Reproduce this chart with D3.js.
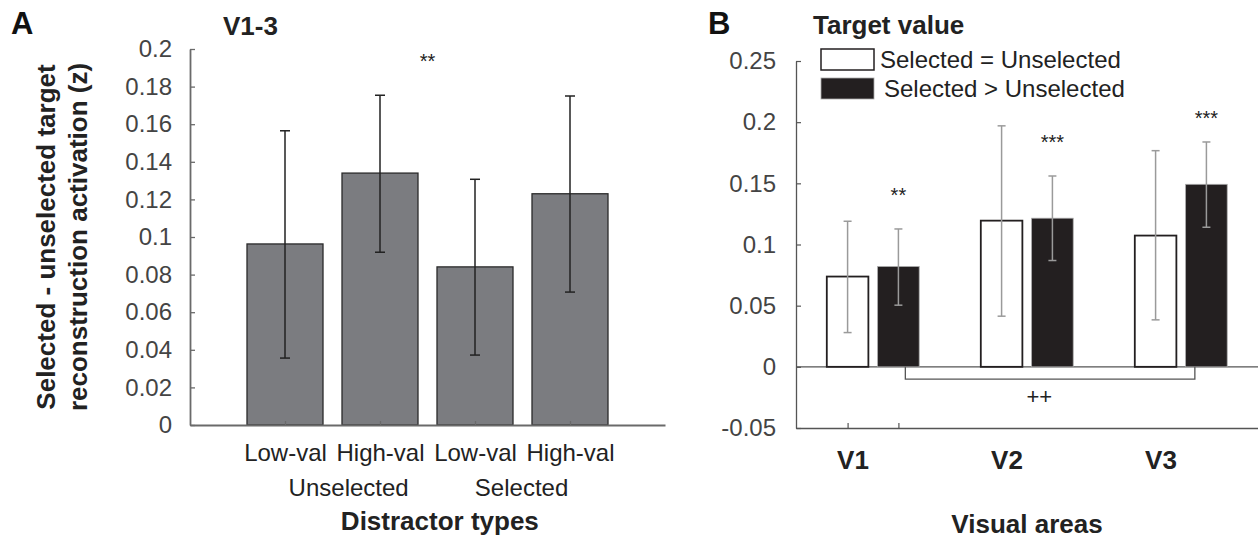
<!DOCTYPE html>
<html>
<head>
<meta charset="utf-8">
<script src="https://cdn.jsdelivr.net/npm/d3@7"></script>
<style>
  body { margin: 0; background: #fff; }
  text { font-family: "Liberation Sans", Arial, Helvetica, sans-serif; }
</style>
</head>
<body>
<svg id="chart" width="1258" height="539"></svg>
<script>
// panel A data (V1-3)
var distractors = ["Low-val", "High-val", "Low-val", "High-val"]
var groupLabels = [{name:"Unselected", pos:1.67}, {name:"Selected", pos:3.49}]
var meanA = [0.0963, 0.134, 0.0841, 0.123]
var lowA  = [0.0356, 0.0919, 0.0372, 0.0707]
var highA = [0.1565, 0.1754, 0.1307, 0.175]
var ticksA = [0, 0.02, 0.04, 0.06, 0.08, 0.1, 0.12, 0.14, 0.16, 0.18, 0.2]

// panel B data (per visual area)
var areas = ["V1", "V2", "V3"]
var series = ["Selected = Unselected", "Selected > Unselected"]
var equalVals = [0.0738, 0.1195, 0.1073]
var equalLow  = [0.028, 0.0414, 0.0384]
var equalHigh = [0.119, 0.197, 0.1767]
var greaterVals = [0.082, 0.1215, 0.1492]
var greaterLow  = [0.0504, 0.0869, 0.1141]
var greaterHigh = [0.1127, 0.156, 0.1838]
var starsB = ["**", "***", "***"]
var starsY = [0.135, 0.178, 0.198]
var ticksB = [-0.05, 0, 0.05, 0.1, 0.15, 0.2, 0.25]

var svg = d3.select("#chart")
var fmt = function(d){ return String(+d.toFixed(2)) }

//---------------- panel A ----------------
var xA = d3.scaleLinear().domain([0, 5]).range([190, 665])
var yA = d3.scaleLinear().domain([0, 0.2]).range([425, 49])
var barW = 0.8

var gA = svg.append("g").attr("id", "panelA")

gA.selectAll("rect.bar")
  .data(meanA)
  .enter().append("rect")
  .attr("class", "bar")
  .attr("x", function(d,i){ return xA(i + 1 - barW/2) })
  .attr("width", xA(barW) - xA(0))
  .attr("y", function(d){ return yA(d) })
  .attr("height", function(d){ return yA(0) - yA(d) })
  .attr("fill", "#7b7c80")
  .attr("stroke", "#2a2a2a")
  .attr("stroke-width", 1.3)

// error bars
var errA = gA.selectAll("g.err").data(meanA).enter().append("g").attr("class","err")
errA.append("line")
  .attr("x1", function(d,i){ return xA(i+1) }).attr("x2", function(d,i){ return xA(i+1) })
  .attr("y1", function(d,i){ return yA(lowA[i]) }).attr("y2", function(d,i){ return yA(highA[i]) })
errA.append("line")
  .attr("x1", function(d,i){ return xA(i+1)-5 }).attr("x2", function(d,i){ return xA(i+1)+5 })
  .attr("y1", function(d,i){ return yA(lowA[i]) }).attr("y2", function(d,i){ return yA(lowA[i]) })
errA.append("line")
  .attr("x1", function(d,i){ return xA(i+1)-5 }).attr("x2", function(d,i){ return xA(i+1)+5 })
  .attr("y1", function(d,i){ return yA(highA[i]) }).attr("y2", function(d,i){ return yA(highA[i]) })
errA.selectAll("line").attr("stroke", "#222").attr("stroke-width", 1.5)

// axes
var yAxisA = d3.axisLeft(yA).tickValues(ticksA).tickFormat(fmt)
  .tickSizeInner(-5).tickSizeOuter(0).tickPadding(18)
gA.append("g").attr("transform", "translate(" + xA(0) + ",0)").call(yAxisA)
  .call(function(g){
    g.select(".domain").attr("stroke", "#6a6a6a").attr("stroke-width", 1.8)
    g.selectAll(".tick line").attr("stroke", "#6a6a6a").attr("stroke-width", 1.3)
    g.selectAll(".tick text").attr("fill", "#444").style("font-size", "24px")
      .style("font-family", "'Liberation Sans', Arial, sans-serif")
  })

var xAxisA = d3.axisBottom(xA).tickValues([1,2,3,4])
  .tickFormat(function(d){ return distractors[d-1] })
  .tickSizeInner(-4).tickSizeOuter(0).tickPadding(19)
gA.append("g").attr("transform", "translate(0," + yA(0) + ")").call(xAxisA)
  .call(function(g){
    g.select(".domain").attr("stroke", "#6a6a6a").attr("stroke-width", 2)
    g.selectAll(".tick line").attr("stroke", "#6a6a6a").attr("stroke-width", 1.2)
    g.selectAll(".tick text").attr("fill", "#222").style("font-size", "24px")
      .style("font-family", "'Liberation Sans', Arial, sans-serif")
  })

gA.selectAll("text.group")
  .data(groupLabels)
  .enter().append("text")
  .attr("class", "group")
  .attr("x", function(d){ return xA(d.pos) })
  .attr("y", 496)
  .attr("text-anchor", "middle")
  .attr("fill", "#222")
  .style("font-size", "24px")
  .text(function(d){ return d.name })

gA.append("text").attr("x", xA(2.63)).attr("y", 530)
  .attr("text-anchor", "middle").attr("font-weight", "bold").attr("fill", "#222")
  .style("font-size", "26px").text("Distractor types")

gA.append("text").attr("x", xA(2.5)).attr("y", yA(0.19))
  .attr("text-anchor", "middle").attr("fill", "#222")
  .style("font-size", "20px").text("**")

gA.append("text").attr("x", 223).attr("y", 35)
  .attr("font-weight", "bold").attr("fill", "#222")
  .style("font-size", "26px").text("V1-3")

gA.append("text").attr("x", 11).attr("y", 34)
  .attr("font-weight", "bold").attr("fill", "#111")
  .style("font-size", "31px").text("A")

var ylab = gA.append("text")
  .attr("transform", "translate(0," + yA(0.1) + ") rotate(-90)")
  .attr("text-anchor", "middle").attr("font-weight", "bold").attr("fill", "#222")
  .style("font-size", "26px")
ylab.append("tspan").attr("x", 0).attr("y", 55).text("Selected - unselected target")
ylab.append("tspan").attr("x", 0).attr("y", 87).text("reconstruction activation (z)")

//---------------- panel B ----------------
var xB = d3.scaleLinear().domain([0.5, 3.5]).range([796, 1258])
var yB = d3.scaleLinear().domain([-0.05, 0.25]).range([428, 61])
var off = 0.165, bw = 0.27

var gB = svg.append("g").attr("id", "panelB")

var rows = areas.map(function(a, i){
  return [
    {pos: i + 1 - off, v: equalVals[i], lo: equalLow[i], hi: equalHigh[i], k: 0},
    {pos: i + 1 + off, v: greaterVals[i], lo: greaterLow[i], hi: greaterHigh[i], k: 1}
  ]
})
var barsB = d3.merge(rows)

// zero line
gB.append("line").attr("x1", xB(0.5)).attr("x2", xB(3.5))
  .attr("y1", yB(0)).attr("y2", yB(0)).attr("stroke", "#555").attr("stroke-width", 1.3)

gB.selectAll("rect.bar")
  .data(barsB)
  .enter().append("rect")
  .attr("class", "bar")
  .attr("x", function(d){ return xB(d.pos - bw/2) })
  .attr("width", xB(bw) - xB(0))
  .attr("y", function(d){ return yB(d.v) })
  .attr("height", function(d){ return yB(0) - yB(d.v) })
  .attr("fill", function(d){ return d.k ? "#231f20" : "#fff" })
  .attr("stroke", function(d){ return d.k ? "#aaa" : "#231f20" })
  .attr("stroke-width", function(d){ return d.k ? 0.8 : 1.8 })

var errB = gB.selectAll("g.err").data(barsB).enter().append("g").attr("class","err")
errB.append("line")
  .attr("x1", function(d){ return xB(d.pos) }).attr("x2", function(d){ return xB(d.pos) })
  .attr("y1", function(d){ return yB(d.lo) }).attr("y2", function(d){ return yB(d.hi) })
errB.append("line")
  .attr("x1", function(d){ return xB(d.pos)-4 }).attr("x2", function(d){ return xB(d.pos)+4 })
  .attr("y1", function(d){ return yB(d.lo) }).attr("y2", function(d){ return yB(d.lo) })
errB.append("line")
  .attr("x1", function(d){ return xB(d.pos)-4 }).attr("x2", function(d){ return xB(d.pos)+4 })
  .attr("y1", function(d){ return yB(d.hi) }).attr("y2", function(d){ return yB(d.hi) })
errB.selectAll("line").attr("stroke", "#9a9a9a").attr("stroke-width", 1.5)

gB.selectAll("text.star")
  .data(starsB)
  .enter().append("text")
  .attr("class", "star")
  .attr("x", function(d,i){ return xB(i + 1 + off) })
  .attr("y", function(d,i){ return yB(starsY[i]) })
  .attr("text-anchor", "middle").attr("fill", "#222")
  .style("font-size", "20px")
  .text(function(d){ return d })

// bracket V1 vs V3
var brX = [1.21, 3.09], brY = -0.01
gB.append("path")
  .attr("d", "M" + xB(brX[0]) + "," + yB(0) + "V" + yB(brY) + "H" + xB(brX[1]) + "V" + yB(0))
  .attr("fill", "none").attr("stroke", "#555").attr("stroke-width", 1.3)
gB.append("text").attr("x", xB(2.08)).attr("y", yB(-0.0305))
  .attr("text-anchor", "middle").attr("fill", "#222")
  .style("font-size", "22px").text("++")

var yAxisB = d3.axisLeft(yB).tickValues(ticksB).tickFormat(fmt)
  .tickSizeInner(-5).tickSizeOuter(0).tickPadding(20)
gB.append("g").attr("transform", "translate(" + xB(0.5) + ",0)").call(yAxisB)
  .call(function(g){
    g.select(".domain").attr("stroke", "#555").attr("stroke-width", 1.3)
    g.selectAll(".tick line").attr("stroke", "#555").attr("stroke-width", 1.2)
    g.selectAll(".tick text").attr("fill", "#444").style("font-size", "24px")
      .style("font-family", "'Liberation Sans', Arial, sans-serif")
  })

var xAxisB = d3.axisBottom(xB).tickValues([1 - off, 1 + off])
  .tickFormat("").tickSizeInner(-5).tickSizeOuter(0)
gB.append("g").attr("transform", "translate(0," + yB(-0.05) + ")").call(xAxisB)
  .call(function(g){
    g.select(".domain").attr("stroke", "#555").attr("stroke-width", 1.3)
    g.selectAll(".tick line").attr("stroke", "#555").attr("stroke-width", 1.2)
  })

gB.selectAll("text.area")
  .data(areas)
  .enter().append("text")
  .attr("class", "area")
  .attr("x", function(d,i){ return xB(i + 1) - 20 })
  .attr("y", 469)
  .attr("text-anchor", "middle").attr("font-weight", "bold").attr("fill", "#222")
  .style("font-size", "26px")
  .text(function(d){ return d })

gB.append("text").attr("x", xB(2)).attr("y", 533)
  .attr("text-anchor", "middle").attr("font-weight", "bold").attr("fill", "#222")
  .style("font-size", "26px").text("Visual areas")

gB.append("text").attr("x", 708).attr("y", 34)
  .attr("font-weight", "bold").attr("fill", "#111")
  .style("font-size", "31px").text("B")

gB.append("text").attr("x", 813).attr("y", 34)
  .attr("font-weight", "bold").attr("fill", "#222")
  .style("font-size", "26px").text("Target value")

// legend
var leg = gB.selectAll("g.leg").data(series).enter().append("g").attr("class", "leg")
  .attr("transform", function(d,i){ return "translate(821," + (49 + i*29) + ")" })
leg.append("rect").attr("width", 53).attr("height", 21)
  .attr("fill", function(d,i){ return i ? "#231f20" : "#fff" })
  .attr("stroke", function(d,i){ return i ? "#aaa" : "#231f20" })
  .attr("stroke-width", function(d,i){ return i ? 0.8 : 1.5 })
leg.append("text").attr("x", function(d,i){ return i ? 63 : 59 }).attr("y", 19)
  .attr("fill", "#222").style("font-size", "24px")
  .text(function(d){ return d })
</script>
</body>
</html>
